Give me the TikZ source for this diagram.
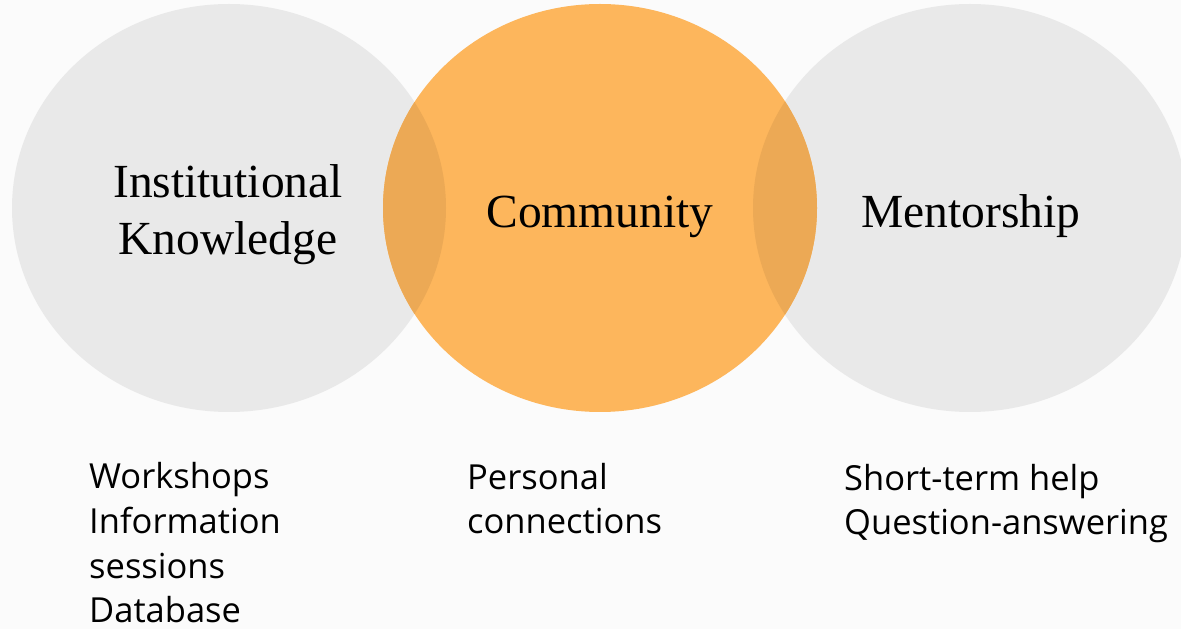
\documentclass[tikz,border=0pt]{standalone}
\usepackage{fontspec}
\setmainfont{Liberation Serif}
\newfontfamily\listfont{Open Sans}
\definecolor{bgcol}{HTML}{FBFBFB}
\definecolor{circgray}{HTML}{E9E9E9}
\definecolor{circorange}{HTML}{FDB65C}
\definecolor{overlap}{HTML}{ECA955}
\tikzset{
  topic/.style={align=center, anchor=base, font=\fontsize{47.5}{57}\selectfont},
  items/.style={align=left, anchor=base west, inner sep=0pt, font=\listfont\fontsize{34.5}{44.7}\selectfont}
}
\begin{document}
\begin{tikzpicture}[x=1pt, y=1pt]
    \useasboundingbox (0,0) rectangle (1181,629);
    \fill[bgcol] (0,0) rectangle (1181,629);
    \fill[circgray] (229,421) ellipse (217 and 204);
    \fill[circgray] (970,421) ellipse (217 and 204);
    \fill[circorange] (600,421) ellipse (217 and 204);
    \begin{scope}
        \clip (600,421) ellipse (217 and 204);
        \fill[overlap] (229,421) ellipse (217 and 204);
        \fill[overlap] (970,421) ellipse (217 and 204);
    \end{scope}
    \node[topic] (inst) at (228,374) {Institutional\\Knowledge};
    \node[topic] (comm) at (600,401) {Community};
    \node[topic] (ment) at (971,401) {Mentorship};
    \node[items] (instlist) at (89,6) {Workshops\\Information\\sessions\\Database};
    \node[items] (commlist) at (467,95) {Personal\\connections};
    \node[items] (mentlist) at (844,94) {Short-term help\\Question-answering};
\end{tikzpicture}
\end{document}
